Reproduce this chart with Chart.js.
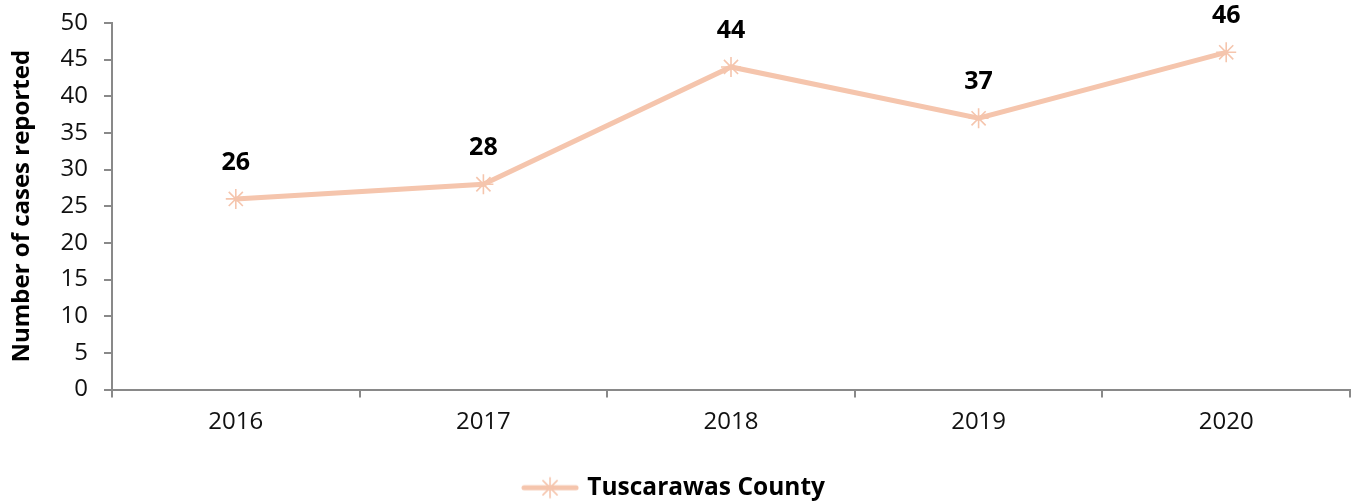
<!DOCTYPE html>
<html>
<head>
<meta charset="utf-8">
<script src="https://cdn.jsdelivr.net/npm/chart.js@4/dist/chart.umd.min.js"></script>
<style>
html,body{margin:0;padding:0;background:#fff;}
#wrap{width:1356px;height:504px;}
</style>
</head>
<body>
<div id="wrap"><canvas id="c" width="1356" height="504"></canvas></div>
<script>
const categories = ["2016", "2017", "2018", "2019", "2020"];
const seriesName = "Tuscarawas County";
const seriesValues = [26, 28, 44, 37, 46];
const yTicks = [0, 5, 10, 15, 20, 25, 30, 35, 40, 45, 50];
const yTitle = "Number of cases reported";

const FONT = "'Open Sans', 'Noto Sans', sans-serif";
const LINE = "#F5C5AD";
const AXIS = "#898989";

// legend symbol: line + star marker
const sym = document.createElement('canvas');
sym.width = 58; sym.height = 24;
(function(){
  const g = sym.getContext('2d');
  g.strokeStyle = LINE; g.lineWidth = 5; g.lineCap = 'round';
  g.beginPath(); g.moveTo(3,12); g.lineTo(55,12); g.stroke();
  g.lineWidth = 1.6;
  const r = 10, cx = 29, cy = 12;
  g.beginPath();
  for (let k = 0; k < 4; k++) {
    const a = k * Math.PI / 4;
    g.moveTo(cx - r*Math.cos(a), cy - r*Math.sin(a));
    g.lineTo(cx + r*Math.cos(a), cy + r*Math.sin(a));
  }
  g.stroke();
})();

const labelPlugin = {
  id: 'valueLabels',
  afterDatasetsDraw(chart) {
    const ctx = chart.ctx;
    const meta = chart.getDatasetMeta(0);
    ctx.save();
    ctx.font = "bold 25px " + FONT;
    ctx.fillStyle = "#000";
    ctx.textAlign = "center";
    ctx.textBaseline = "middle";
    meta.data.forEach((pt, i) => {
      ctx.fillText(String(seriesValues[i]), pt.x, pt.y - 36);
    });
    ctx.restore();
  }
};

new Chart(document.getElementById('c'), {
  type: 'line',
  data: {
    labels: categories,
    datasets: [{
      label: seriesName,
      data: seriesValues,
      borderColor: LINE,
      backgroundColor: LINE,
      borderWidth: 5,
      pointStyle: 'star',
      pointRadius: 10,
      pointBorderWidth: 1.6,
      pointBorderColor: LINE,
      pointBackgroundColor: LINE,
      tension: 0,
      fill: false,
      clip: false
    }]
  },
  options: {
    responsive: false,
    animation: false,
    devicePixelRatio: 1,
    layout: { autoPadding: false, padding: { top: 23, right: 6, left: 0, bottom: -6 } },
    plugins: {
      tooltip: { enabled: false },
      legend: {
        position: 'bottom',
        labels: {
          usePointStyle: true,
          pointStyleWidth: 50,
          font: { family: FONT, size: 24.5, weight: 'bold' },
          color: '#000',
          padding: 8,
          generateLabels(chart) {
            return [{ text: seriesName, pointStyle: sym, fillStyle: LINE, strokeStyle: LINE, lineWidth: 0, datasetIndex: 0 }];
          }
        }
      }
    },
    scales: {
      x: {
        offset: true,
        grid: { offset: true, drawOnChartArea: false, drawTicks: true, tickLength: 8, color: AXIS, lineWidth: 2 },
        border: { color: AXIS, width: 2 },
        ticks: { font: { family: FONT, size: 24 }, color: '#111', padding: 10 },
        afterFit(scale) { scale.height = 78; scale.paddingLeft = 0; scale.paddingRight = 0; }
      },
      y: {
        min: 0, max: 50,
        afterBuildTicks(scale) { scale.ticks = yTicks.map(v => ({ value: v })); },
        grid: { drawOnChartArea: false, drawTicks: true, tickLength: 8, color: AXIS, lineWidth: 2 },
        border: { color: AXIS, width: 2 },
        ticks: { font: { family: FONT, size: 24 }, color: '#111', padding: 16 },
        title: { display: true, text: yTitle, font: { family: FONT, size: 24, weight: 'bold' }, color: '#000', padding: { top: 8, bottom: 0 } },
        afterFit(scale) { scale.width = 112; scale.paddingTop = 0; scale.paddingBottom = 0; }
      }
    }
  },
  plugins: [labelPlugin]
});
</script>
</body>
</html>
